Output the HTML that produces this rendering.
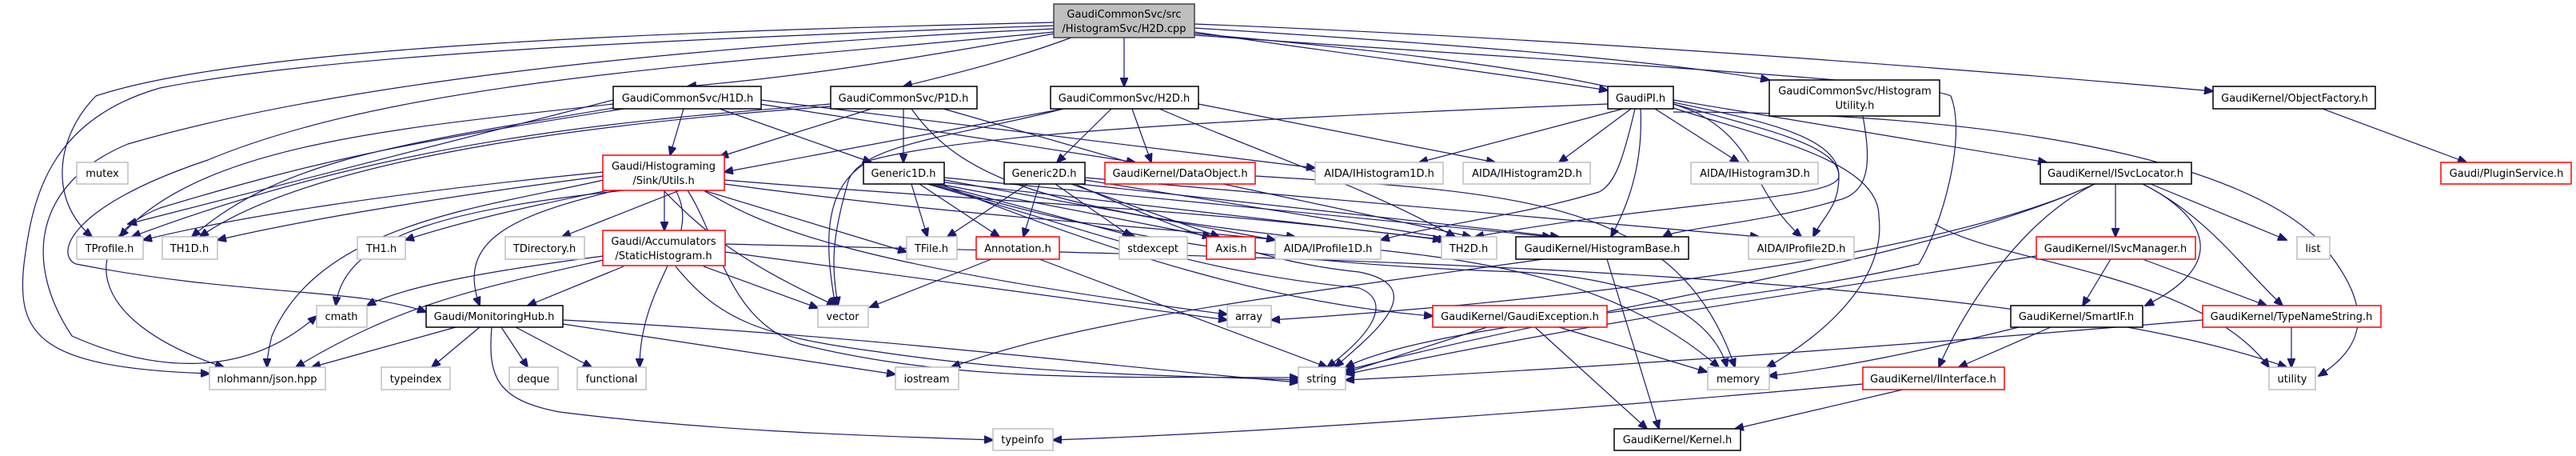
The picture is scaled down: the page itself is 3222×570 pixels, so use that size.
<!DOCTYPE html>
<html><head><meta charset="utf-8"><style>
html,body{margin:0;padding:0;background:#fff;}
svg{display:block;}
text{font-family:"DejaVu Sans","Liberation Sans",sans-serif;font-size:13px;fill:#000;text-anchor:middle;}
.e{fill:none;stroke:#191970;stroke-width:1.2;marker-end:url(#a);}
.b{fill:#fff;stroke:#000;stroke-width:1.5;}
.r{fill:#fff;stroke:#ff0000;stroke-width:1.5;}
.g{fill:#fff;stroke:#bfbfbf;stroke-width:1.5;}
</style></head><body>
<svg width="3222" height="570" viewBox="0 0 3222 570" xmlns="http://www.w3.org/2000/svg">
<defs><marker id="a" markerUnits="userSpaceOnUse" markerWidth="12" markerHeight="10" refX="11" refY="5" orient="auto"><path d="M0,0 L12,5 L0,10 z" fill="#191970" stroke="#191970"/></marker></defs>
<g>
<!-- H2D.cpp -->
<path class="e" d="M1330,40 C1050,90 950,100 860,108"/>
<path class="e" d="M1340,47 C1250,80 1180,95 1130,108"/>
<path class="e" d="M1406,47 L1406,108"/>
<path class="e" d="M1494,40 C1700,70 1900,95 2011,113"/>
<path class="e" d="M1494,35 C1900,60 2100,80 2213,100"/>
<path class="e" d="M1494,30 C2000,50 2500,90 2768,114"/>
<path class="e" d="M1318,28 C800,40 300,60 120,120 C70,170 60,250 115,296"/>
<path class="e" d="M1318,32 C800,50 400,70 200,110 C60,150 40,250 30,330 C20,420 50,460 262,467"/>
<path class="e" d="M1318,36 C800,60 400,110 160,180 C40,230 30,330 90,420 C180,460 300,480 396,395"/>
<path class="e" d="M1318,40 C900,80 500,100 260,200 C80,260 70,320 95,330 C300,370 450,360 533,390"/>
<path class="e" d="M1494,42 C1700,60 2000,90 2120,140 C2200,180 2190,240 2253,296"/>
<path class="e" d="M1494,44 C2000,80 2400,100 2440,120 C2460,170 2430,280 2400,330 C2200,380 1800,400 1683,459"/>
<!-- H1D -->
<path class="e" d="M855,136 L838,194"/>
<path class="e" d="M900,136 L1090,203"/>
<path class="e" d="M950,130 L1420,203"/>
<path class="e" d="M952,125 L1645,210"/>
<path class="e" d="M767,125 L160,280"/>
<path class="e" d="M767,130 C500,160 250,180 150,296"/>
<path class="e" d="M767,135 C500,180 350,200 240,296"/>
<path class="e" d="M780,136 C500,180 400,200 200,260 C100,300 100,400 280,459"/>
<!-- P1D -->
<path class="e" d="M1090,136 L900,196"/>
<path class="e" d="M1130,136 L1130,203"/>
<path class="e" d="M1180,136 L1420,205"/>
<path class="e" d="M1140,136 C1200,220 1300,260 1620,296"/>
<path class="e" d="M1039,130 C800,150 500,170 165,296"/>
<path class="e" d="M1039,133 C800,150 400,190 250,296"/>
<!-- H2Dh -->
<path class="e" d="M1390,136 L1322,203"/>
<path class="e" d="M1416,136 L1440,203"/>
<path class="e" d="M1330,136 L906,215"/>
<path class="e" d="M1499,130 L1870,203"/>
<path class="e" d="M1450,136 C1600,200 1700,230 1820,296"/>
<path class="e" d="M1330,136 C1200,170 1070,180 1060,230 C1040,300 1040,330 1048,382"/>
<!-- GaudiPI -->
<path class="e" d="M2030,136 L1775,203"/>
<path class="e" d="M2040,136 L1950,203"/>
<path class="e" d="M2070,136 L2175,203"/>
<path class="e" d="M2045,136 C2030,200 2020,230 2000,240 C1900,270 1800,280 1727,300"/>
<path class="e" d="M2052,136 C2055,200 2040,250 2015,296"/>
<path class="e" d="M2093,130 C2200,160 2300,180 2300,220 C2300,260 2280,270 2268,296"/>
<path class="e" d="M2093,128 C2200,150 2300,170 2300,220 C2300,250 2100,250 1845,296"/>
<path class="e" d="M2093,125 L2560,203"/>
<path class="e" d="M2093,140 C2500,140 2800,200 2900,300 C2950,360 2980,420 2900,470"/>
<path class="e" d="M2093,135 C2200,170 2350,200 2350,270 C2360,350 2280,420 2210,459"/>
<path class="e" d="M2011,130 C1500,150 1200,170 1090,200 C1030,230 1030,300 1045,382"/>
<!-- HistUtil -->
<path class="e" d="M2330,145 C2340,200 2340,240 2300,250 C2200,280 2100,285 2080,296"/>
<!-- ObjFactory -->
<path class="e" d="M2905,136 L3085,203"/>
<!-- Utils -->
<path class="e" d="M831,238 L831,288"/>
<path class="e" d="M850,238 L703,296"/>
<path class="e" d="M790,232 C700,250 600,270 507,300"/>
<path class="e" d="M755,220 C600,240 400,270 272,300"/>
<path class="e" d="M755,215 C500,240 300,270 179,300"/>
<path class="e" d="M880,238 L1134,315"/>
<path class="e" d="M780,238 C580,260 430,290 420,382"/>
<path class="e" d="M755,225 C600,260 400,280 340,420 C335,440 334,450 334,459"/>
<path class="e" d="M770,238 C640,270 570,300 600,382"/>
<path class="e" d="M830,238 C880,290 930,330 1045,382"/>
<path class="e" d="M845,238 C880,300 800,350 800,459"/>
<path class="e" d="M860,238 C900,300 910,400 1000,430 C1200,480 1400,470 1624,472"/>
<path class="e" d="M880,238 C950,280 1050,330 1535,393"/>
<path class="e" d="M906,225 C1200,250 1500,260 1803,300"/>
<path class="e" d="M906,230 C1200,270 1400,280 1600,300 C1800,320 2000,330 2150,459"/>
<!-- StaticHist -->
<path class="e" d="M780,333 L660,382"/>
<path class="e" d="M755,320 C600,340 500,360 459,382"/>
<path class="e" d="M755,325 C600,360 500,380 370,459"/>
<path class="e" d="M880,333 L1023,385"/>
<path class="e" d="M907,315 L1535,400"/>
<path class="e" d="M845,333 C900,400 950,420 1100,440 C1300,470 1500,470 1624,475"/>
<path class="e" d="M907,305 C1500,320 2500,330 2860,459"/>
<!-- MonHub -->
<path class="e" d="M570,409 L390,459"/>
<path class="e" d="M600,409 L540,459"/>
<path class="e" d="M627,409 L660,459"/>
<path class="e" d="M645,409 L740,459"/>
<path class="e" d="M704,400 C1100,420 1400,460 1624,478"/>
<path class="e" d="M704,405 L1120,468"/>
<path class="e" d="M615,409 C610,470 620,500 700,515 C900,540 1100,545 1242,550"/>
<!-- Generic1D -->
<path class="e" d="M1140,230 L1160,296"/>
<path class="e" d="M1150,230 L1250,296"/>
<path class="e" d="M1170,230 L1420,296"/>
<path class="e" d="M1175,230 L1515,296"/>
<path class="e" d="M1181,225 L1595,300"/>
<path class="e" d="M1181,228 L1810,300"/>
<path class="e" d="M1181,222 L1940,296"/>
<path class="e" d="M1160,230 C1400,300 1500,340 1700,360 C1750,380 1700,430 1660,459"/>
<path class="e" d="M1165,230 C1400,300 1600,330 1900,340 C2100,350 2150,420 2160,459"/>
<path class="e" d="M1181,232 C1400,320 1600,380 1792,395"/>
<!-- Generic2D -->
<path class="e" d="M1285,230 L1185,296"/>
<path class="e" d="M1300,230 L1280,296"/>
<path class="e" d="M1320,230 L1415,296"/>
<path class="e" d="M1340,230 L1525,296"/>
<path class="e" d="M1357,225 L1825,300"/>
<path class="e" d="M1357,222 L2200,296"/>
<path class="e" d="M1350,230 L1950,296"/>
<path class="e" d="M1345,230 C1500,300 1600,330 1700,340 C1800,360 1700,430 1670,459"/>
<!-- Annotation -->
<path class="e" d="M1240,324 L1088,384"/>
<path class="e" d="M1300,324 L1660,459"/>
<!-- DataObject -->
<path class="e" d="M1530,230 L1840,296"/>
<path class="e" d="M1570,220 C1900,240 2100,250 2170,459"/>
<!-- HistBase -->
<path class="e" d="M2010,324 L2075,536"/>
<path class="e" d="M1930,324 C1600,370 1350,400 1190,459"/>
<!-- GaudiException -->
<path class="e" d="M1860,409 L1683,466"/>
<path class="e" d="M1950,409 L2135,465"/>
<path class="e" d="M1920,409 L2060,536"/>
<!-- ISvcLocator -->
<path class="e" d="M2646,230 L2646,296"/>
<path class="e" d="M2690,230 L2860,300"/>
<path class="e" d="M2680,230 C2760,270 2790,330 2683,382"/>
<path class="e" d="M2680,230 C2760,270 2800,330 2855,382"/>
<path class="e" d="M2620,230 C2520,280 2450,400 2425,459"/>
<path class="e" d="M2620,230 C2400,330 2000,380 1683,463"/>
<path class="e" d="M2620,230 C2400,330 1900,380 1590,400"/>
<!-- ISvcManager -->
<path class="e" d="M2640,324 L2605,382"/>
<path class="e" d="M2680,324 L2835,382"/>
<path class="e" d="M2547,320 C2300,360 2000,400 1683,468"/>
<!-- SmartIF -->
<path class="e" d="M2565,409 L2450,459"/>
<path class="e" d="M2525,409 C2400,440 2300,460 2212,470"/>
<!-- TypeNameString -->
<path class="e" d="M2866,409 L2866,459"/>
<path class="e" d="M2755,400 C2400,430 2000,460 1683,475"/>
<!-- IInterface -->
<path class="e" d="M2380,487 L2170,536"/>
<path class="e" d="M2330,480 C2000,510 1600,540 1317,550"/>
<path class="e" d="M2420,280 C2500,330 2750,340 2838,459"/>
</g>
<g>
<rect x="1318" y="5" width="176" height="42" fill="#bfbfbf" stroke="#404040" stroke-width="1.5"/>
<text x="1406" y="22">GaudiCommonSvc/src</text><text x="1406" y="40">/HistogramSvc/H2D.cpp</text>

<rect class="b" x="767" y="108" width="185" height="28"/><text x="860" y="127">GaudiCommonSvc/H1D.h</text>
<rect class="b" x="1039" y="108" width="183" height="28"/><text x="1130" y="127">GaudiCommonSvc/P1D.h</text>
<rect class="b" x="1314" y="108" width="185" height="28"/><text x="1406" y="127">GaudiCommonSvc/H2D.h</text>
<rect class="b" x="2011" y="108" width="82" height="28"/><text x="2052" y="127">GaudiPI.h</text>
<rect class="b" x="2213" y="100" width="213" height="45"/><text x="2320" y="118">GaudiCommonSvc/Histogram</text><text x="2320" y="136">Utility.h</text>
<rect class="b" x="2768" y="108" width="203" height="28"/><text x="2870" y="127">GaudiKernel/ObjectFactory.h</text>

<rect class="r" x="754" y="194" width="152" height="44"/><text x="830" y="212">Gaudi/Histograming</text><text x="830" y="230">/Sink/Utils.h</text>
<rect class="b" x="1080" y="203" width="101" height="27"/><text x="1130" y="221">Generic1D.h</text>
<rect class="b" x="1256" y="203" width="101" height="27"/><text x="1306" y="221">Generic2D.h</text>
<rect class="r" x="1382" y="203" width="188" height="27"/><text x="1476" y="221">GaudiKernel/DataObject.h</text>
<rect class="g" x="1645" y="203" width="160" height="27"/><text x="1725" y="221">AIDA/IHistogram1D.h</text>
<rect class="g" x="1830" y="203" width="159" height="27"/><text x="1910" y="221">AIDA/IHistogram2D.h</text>
<rect class="g" x="2115" y="203" width="159" height="27"/><text x="2195" y="221">AIDA/IHistogram3D.h</text>
<rect class="b" x="2552" y="203" width="189" height="27"/><text x="2646" y="221">GaudiKernel/ISvcLocator.h</text>
<rect class="r" x="3053" y="203" width="163" height="27"/><text x="3135" y="221">Gaudi/PluginService.h</text>
<rect class="g" x="96" y="203" width="64" height="27"/><text x="128" y="221">mutex</text>

<rect class="g" x="96" y="296" width="83" height="28"/><text x="137" y="315">TProfile.h</text>
<rect class="g" x="203" y="296" width="69" height="28"/><text x="237" y="315">TH1D.h</text>
<rect class="g" x="447" y="296" width="60" height="28"/><text x="477" y="315">TH1.h</text>
<rect class="g" x="632" y="296" width="99" height="28"/><text x="681" y="315">TDirectory.h</text>
<rect class="r" x="754" y="288" width="153" height="44"/><text x="830" y="306">Gaudi/Accumulators</text><text x="830" y="324">/StaticHistogram.h</text>
<rect class="g" x="1134" y="296" width="63" height="28"/><text x="1165" y="315">TFile.h</text>
<rect class="r" x="1221" y="296" width="104" height="28"/><text x="1273" y="315">Annotation.h</text>
<rect class="g" x="1400" y="296" width="85" height="28"/><text x="1442" y="315">stdexcept</text>
<rect class="r" x="1509" y="296" width="61" height="28"/><text x="1540" y="315">Axis.h</text>
<rect class="g" x="1595" y="296" width="132" height="28"/><text x="1661" y="315">AIDA/IProfile1D.h</text>
<rect class="g" x="1803" y="296" width="69" height="28"/><text x="1837" y="315">TH2D.h</text>
<rect class="b" x="1896" y="296" width="216" height="28"/><text x="2004" y="315">GaudiKernel/HistogramBase.h</text>
<rect class="g" x="2187" y="296" width="132" height="28"/><text x="2253" y="315">AIDA/IProfile2D.h</text>
<rect class="r" x="2547" y="296" width="199" height="28"/><text x="2646" y="315">GaudiKernel/ISvcManager.h</text>
<rect class="g" x="2873" y="296" width="41" height="28"/><text x="2893" y="315">list</text>

<rect class="g" x="396" y="382" width="63" height="27"/><text x="427" y="400">cmath</text>
<rect class="b" x="533" y="382" width="171" height="27"/><text x="618" y="400">Gaudi/MonitoringHub.h</text>
<rect class="g" x="1023" y="382" width="63" height="27"/><text x="1054" y="400">vector</text>
<rect class="g" x="1535" y="382" width="55" height="27"/><text x="1562" y="400">array</text>
<rect class="r" x="1792" y="382" width="218" height="27"/><text x="1901" y="400">GaudiKernel/GaudiException.h</text>
<rect class="b" x="2515" y="382" width="165" height="27"/><text x="2597" y="400">GaudiKernel/SmartIF.h</text>
<rect class="r" x="2755" y="382" width="223" height="27"/><text x="2866" y="400">GaudiKernel/TypeNameString.h</text>

<rect class="g" x="262" y="459" width="145" height="28"/><text x="334" y="478">nlohmann/json.hpp</text>
<rect class="g" x="477" y="459" width="86" height="28"/><text x="520" y="478">typeindex</text>
<rect class="g" x="637" y="459" width="61" height="28"/><text x="667" y="478">deque</text>
<rect class="g" x="722" y="459" width="86" height="28"/><text x="765" y="478">functional</text>
<rect class="g" x="1120" y="459" width="79" height="28"/><text x="1159" y="478">iostream</text>
<rect class="g" x="1624" y="459" width="59" height="28"/><text x="1653" y="478">string</text>
<rect class="g" x="2136" y="459" width="77" height="28"/><text x="2174" y="478">memory</text>
<rect class="r" x="2330" y="459" width="177" height="28"/><text x="2418" y="478">GaudiKernel/IInterface.h</text>
<rect class="g" x="2838" y="459" width="58" height="28"/><text x="2867" y="478">utility</text>

<rect class="g" x="1242" y="536" width="75" height="27"/><text x="1279" y="554">typeinfo</text>
<rect class="b" x="2019" y="536" width="158" height="27"/><text x="2098" y="554">GaudiKernel/Kernel.h</text>
</g>
</svg>
</body></html>
